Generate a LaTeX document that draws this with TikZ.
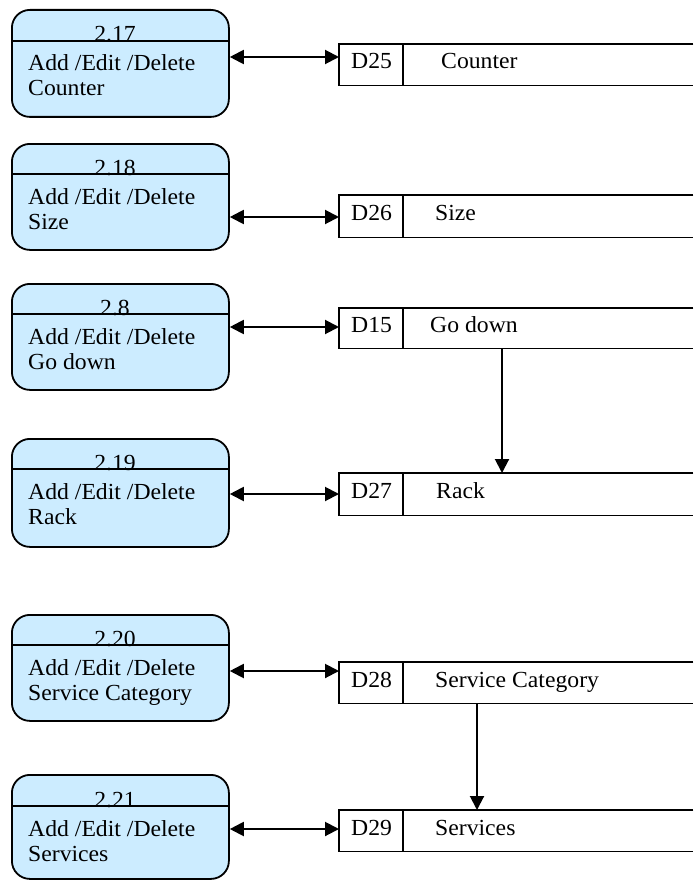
\documentclass[tikz,border=0pt]{standalone}
\usepackage{fontspec}
\setmainfont{Liberation Serif}[FakeStretch=1.03]
\usetikzlibrary{arrows.meta}
\definecolor{procfill}{RGB}{204,236,255}
\tikzset{
  procbox/.style={draw, line width=1.8pt, fill=procfill, rounded corners=18pt, minimum width=217pt, anchor=north west, inner sep=0pt},
  storebox/.style={minimum width=354pt, anchor=north west, inner sep=0pt},
  storeline/.style={line width=1.4pt},
  divline/.style={line width=1.1pt},
  txt/.style={inner sep=0pt, anchor=base west, font=\fontsize{23}{26}\selectfont},
  num/.style={inner sep=0pt, anchor=base, font=\fontsize{23}{26}\selectfont},
  biarrow/.style={line width=2pt, {Triangle[length=14pt,width=14pt]}-{Triangle[length=14pt,width=14pt]}},
  downarrow/.style={line width=2pt, -{Triangle[length=14pt,width=14pt]}},
}
\begin{document}
\begin{tikzpicture}[x=1pt,y=-1pt]
\useasboundingbox (0,0) rectangle (693,880);
% ---------- processes ----------
\node[procbox, minimum height=107pt] (p17) at (11,9) {};
\node[procbox, minimum height=106pt] (p18) at (11,143) {};
\node[procbox, minimum height=106pt] (p8)  at (11,283) {};
\node[procbox, minimum height=108pt] (p19) at (11,438) {};
\node[procbox, minimum height=106pt] (p20) at (11,614) {};
\node[procbox, minimum height=104pt] (p21) at (11,774) {};
\foreach \p/\d in {p17/41, p18/174, p8/314, p19/469, p20/645, p21/806}{
  \draw[divline] (\p.west |- 0,\d) -- (\p.east |- 0,\d);
}
\node[num] (n17) at (115,42) {2.17};
\node[num] (n18) at (115,175) {2.18};
\node[num] (n8)  at (115,315) {2.8};
\node[num] (n19) at (115,470) {2.19};
\node[num] (n20) at (115,646) {2.20};
\node[num] (n21) at (115,807) {2.21};
\node[txt] (a17) at (28,71) {Add /Edit /Delete};
\node[txt] (b17) at (28,96) {Counter};
\node[txt] (a18) at (28,204) {Add /Edit /Delete};
\node[txt] (b18) at (28,229) {Size};
\node[txt] (a8)  at (28,344) {Add /Edit /Delete};
\node[txt] (b8)  at (28,369) {Go down};
\node[txt] (a19) at (28,499) {Add /Edit /Delete};
\node[txt] (b19) at (28,524) {Rack};
\node[txt] (a20) at (28,675) {Add /Edit /Delete};
\node[txt] (b20) at (28,700) {Service Category};
\node[txt] (a21) at (28,836) {Add /Edit /Delete};
\node[txt] (b21) at (28,861) {Services};
% ---------- data stores ----------
\node[storebox, minimum height=41pt] (d25) at (339,44) {};
\node[storebox, minimum height=42pt] (d26) at (339,195) {};
\node[storebox, minimum height=40pt] (d15) at (339,308) {};
\node[storebox, minimum height=42pt] (d27) at (339,473) {};
\node[storebox, minimum height=41pt] (d28) at (339,662) {};
\node[storebox, minimum height=41pt] (d29) at (339,810) {};
\foreach \s in {d25,d26,d15,d27,d28,d29}{
  \draw[storeline] (\s.north east) -- (\s.north west) -- (\s.south west) -- (\s.south east);
  \draw[divline] ([xshift=64pt]\s.north west) -- ([xshift=64pt]\s.south west);
}
\node[txt] (i25) at (351,69) {D25};
\node[txt] (t25) at (441,69) {Counter};
\node[txt] (i26) at (351,220) {D26};
\node[txt] (t26) at (435,220) {Size};
\node[txt] (i15) at (351,332) {D15};
\node[txt] (t15) at (430,332) {Go down};
\node[txt] (i27) at (351,498) {D27};
\node[txt] (t27) at (436,498) {Rack};
\node[txt] (i28) at (351,687) {D28};
\node[txt] (t28) at (435,687) {Service Category};
\node[txt] (i29) at (351,835) {D29};
\node[txt] (t29) at (435,835) {Services};
% ---------- flows ----------
\draw[biarrow] (p17.east |- 0,57)  -- (d25.west |- 0,57);
\draw[biarrow] (p18.east |- 0,217) -- (d26.west |- 0,217);
\draw[biarrow] (p8.east  |- 0,327) -- (d15.west |- 0,327);
\draw[biarrow] (p19.east |- 0,494) -- (d27.west |- 0,494);
\draw[biarrow] (p20.east |- 0,671) -- (d28.west |- 0,671);
\draw[biarrow] (p21.east |- 0,829) -- (d29.west |- 0,829);
\draw[downarrow] (d15.south -| 502,0) -- (d27.north -| 502,0);
\draw[downarrow] (d28.south -| 477,0) -- (d29.north -| 477,0);
\end{tikzpicture}
\end{document}
